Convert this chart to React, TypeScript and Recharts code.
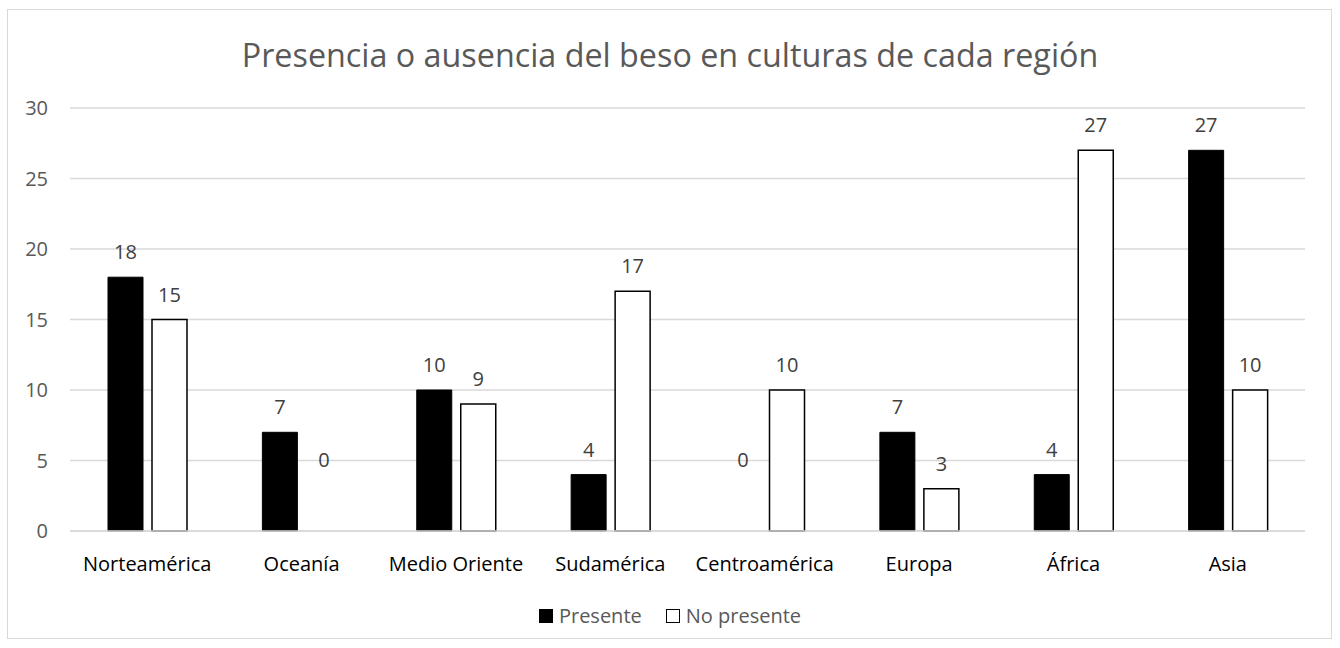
import React from "react";
import {
  BarChart,
  Bar,
  XAxis,
  YAxis,
  CartesianGrid,
  Legend,
  LabelList,
  Rectangle,
} from "recharts";

const regions = [
  "Norteamérica",
  "Oceanía",
  "Medio Oriente",
  "Sudamérica",
  "Centroamérica",
  "Europa",
  "África",
  "Asia",
];
const presente = [18, 7, 10, 4, 0, 7, 4, 27];
const noPresente = [15, 0, 9, 17, 10, 3, 27, 10];
const yTicks = [0, 5, 10, 15, 20, 25, 30];

const data = regions.map((name, i) => ({
  name,
  presente: presente[i],
  noPresente: noPresente[i],
}));

const FONT = "'Open Sans', sans-serif";
const W = 1340;
const H = 648;

// zero bars get a 1px placeholder so their label is kept, but nothing is drawn
const BarShape = (props: any) => {
  if (props.value === 0 || (Array.isArray(props.value) && props.value[1] === 0)) return null;
  return <Rectangle {...props} />;
};

const renderLabel = (props: any) => {
  const { x, y, width, value } = props;
  const lift = value === 0 ? 63 : 18;
  return (
    <text
      x={Number(x) + Number(width) / 2}
      y={Number(y) - lift}
      textAnchor="middle"
      fill="#404040"
      fontSize={20}
      fontFamily={FONT}
    >
      {value}
    </text>
  );
};

const LegendContent = () => (
  <div
    style={{
      display: "flex",
      justifyContent: "center",
      alignItems: "center",
      fontFamily: FONT,
      fontSize: 20,
      color: "#595959",
    }}
  >
    <span style={{ display: "flex", alignItems: "center", marginRight: 24 }}>
      <span
        style={{ width: 14, height: 14, background: "#000", marginRight: 6, boxSizing: "border-box" }}
      />
      Presente
    </span>
    <span style={{ display: "flex", alignItems: "center" }}>
      <span
        style={{
          width: 14,
          height: 14,
          background: "#fff",
          border: "1.5px solid #000",
          marginRight: 6,
          boxSizing: "border-box",
        }}
      />
      No presente
    </span>
  </div>
);

export default function App() {
  return (
    <div
      style={{
        position: "absolute",
        left: 0,
        top: 0,
        width: W,
        height: H,
        background: "#fff",
      }}
    >
      <div
        style={{
          position: "absolute",
          left: 7,
          top: 9,
          width: 1325,
          height: 630,
          border: "1px solid #d9d9d9",
          boxSizing: "border-box",
        }}
      />
      <div
        style={{
          position: "absolute",
          left: 0,
          top: 32,
          width: W,
          textAlign: "center",
          fontFamily: FONT,
          fontSize: 32.3,
          color: "#595959",
          lineHeight: "44px",
        }}
      >
        Presencia o ausencia del beso en culturas de cada región
      </div>
      <BarChart
        width={W}
        height={H}
        data={data}
        margin={{ top: 108, right: 35, left: 0, bottom: 77 }}
        barSize={35}
        barGap={9}
        style={{ position: "absolute", left: 0, top: 0 }}
      >
        <CartesianGrid vertical={false} stroke="#d9d9d9" strokeWidth={1.3} />
        <XAxis
          dataKey="name"
          height={40}
          axisLine={{ stroke: "#d9d9d9", strokeWidth: 1.3 }}
          tickLine={false}
          tickSize={0}
          tickMargin={26}
          interval={0}
          tick={{ fill: "#000", fontSize: 20, fontFamily: FONT }}
        />
        <YAxis
          width={70}
          domain={[0, 30]}
          ticks={yTicks}
          axisLine={false}
          tickLine={false}
          tickSize={0}
          tickMargin={22}
          tick={{ fill: "#595959", fontSize: 20, fontFamily: FONT }}
        />
        <Legend
          verticalAlign="middle"
          align="center"
          layout="horizontal"
          content={<LegendContent />}
          wrapperStyle={{ top: 602, left: 0, width: W }}
        />
        <Bar
          dataKey="presente"
          name="Presente"
          fill="#000"
          stroke="#000"
          strokeWidth={1}
          minPointSize={1}
          shape={<BarShape />}
          isAnimationActive={false}
        >
          <LabelList dataKey="presente" content={renderLabel} />
        </Bar>
        <Bar
          dataKey="noPresente"
          name="No presente"
          fill="#fff"
          stroke="#000"
          strokeWidth={1.5}
          minPointSize={1}
          shape={<BarShape />}
          isAnimationActive={false}
        >
          <LabelList dataKey="noPresente" content={renderLabel} />
        </Bar>
      </BarChart>
    </div>
  );
}
